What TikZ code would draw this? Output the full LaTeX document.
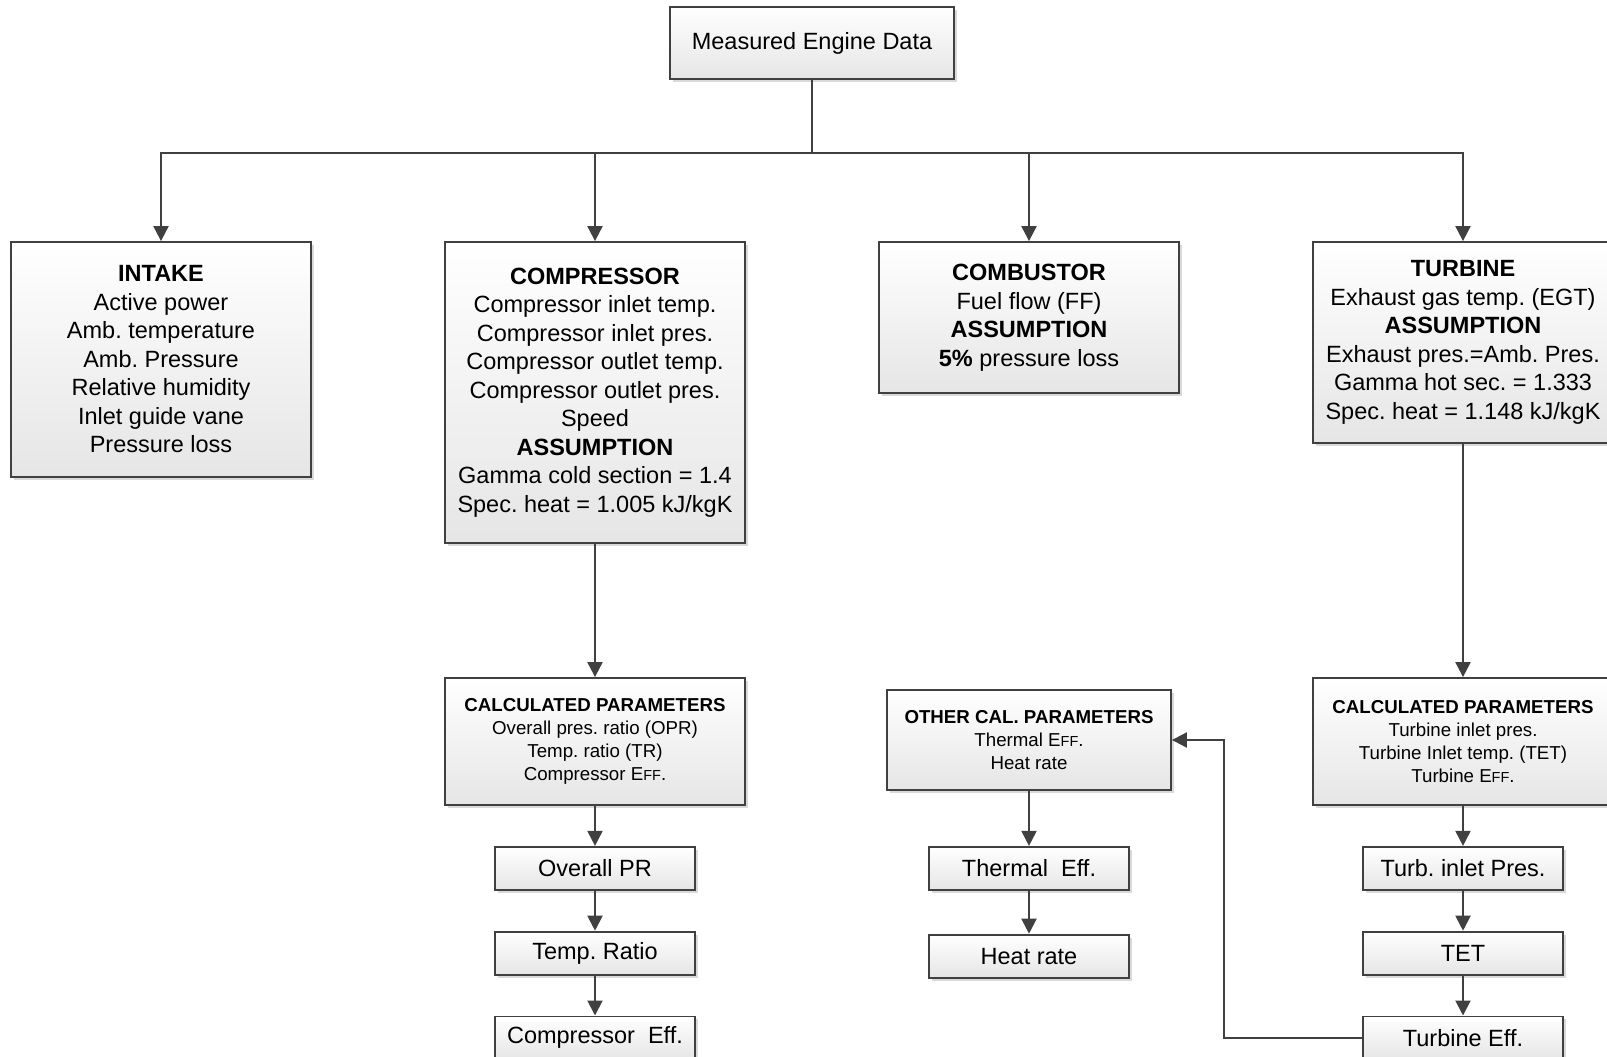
\documentclass[tikz,border=0pt]{standalone}
\usepackage{fontspec}
\setmainfont{Liberation Sans}
\usetikzlibrary{arrows.meta, positioning, shadows}

\definecolor{edgegray}{RGB}{64,64,64}
\newcommand{\effsc}{E{\fontsize{14.5}{14.5}\selectfont FF}.}
\frenchspacing

\begin{document}
\begin{tikzpicture}[x=1pt, y=-1pt, node distance=40pt, part/.style={
        rectangle,
        draw=edgegray,
        line width=1.8pt,
        top color=white,
        bottom color=black!10,
        drop shadow={opacity=0.3, shadow xshift=3pt, shadow yshift=-3pt},
        align=center,
        inner sep=0pt,
        font=\fontsize{23.5}{28.5}\selectfont
    }, calc/.style={
        part,
        minimum width=300pt,
        minimum height=127pt,
        font=\fontsize{18.7}{22.8}\selectfont
    }, result/.style={
        part,
        minimum width=200pt,
        minimum height=43pt
    }, arrow/.style={
        draw=edgegray, line width=2pt, -{Triangle[length=15pt, width=15pt]}
    }]
    \useasboundingbox (0,0) rectangle (1607,1057);

    \node (data) [part, minimum width=284pt, minimum height=72pt] at (812,43) {Measured Engine Data};
    \node (intake) [part, minimum width=300pt, minimum height=235pt] at (161,359.5)
        {\textbf{INTAKE}\\Active power\\Amb. temperature\\Amb. Pressure\\Relative humidity\\Inlet guide vane\\Pressure loss};
    \node (comp) [part, minimum width=300pt, minimum height=301pt] at (595,392.5)
        {\textbf{COMPRESSOR}\\Compressor inlet temp.\\Compressor inlet pres.\\Compressor outlet temp.\\Compressor outlet pres.\\Speed\\\textbf{ASSUMPTION}\\Gamma cold section = 1.4\\Spec. heat = 1.005 kJ/kgK};
    \node (comb) [part, minimum width=300pt, minimum height=151pt] at (1029,317.5)
        {\textbf{COMBUSTOR}\\Fuel flow (FF)\\\textbf{ASSUMPTION}\\\textbf{5\%} pressure loss};
    \node (turb) [part, minimum width=300pt, minimum height=201pt] at (1463,342.5)
        {\textbf{TURBINE}\\Exhaust gas temp. (EGT)\\\textbf{ASSUMPTION}\\Exhaust pres.=Amb. Pres.\\Gamma hot sec. = 1.333\\Spec. heat = 1.148 kJ/kgK};

    \node (compcalc) [calc] at (595,741.5)
        {\textbf{CALCULATED PARAMETERS}\\Overall pres. ratio (OPR)\\Temp. ratio (TR)\\Compressor \effsc};
    \node (opr) [result, below=of compcalc] {Overall PR};
    \node (tr) [result, below=of opr] {Temp. Ratio};
    \node (ceff) [result, below=of tr] {Compressor~ Eff.};

    \node (other) [calc, minimum width=284pt, minimum height=100pt] at (1029,740)
        {\textbf{OTHER CAL. PARAMETERS}\\Thermal \effsc\\Heat rate};
    \node (theff) [result, below=55pt of other] {Thermal~ Eff.};
    \node (heat) [result, below=43pt of theff] {Heat rate};

    \node (turbcalc) [calc] at (1463,741.5)
        {\textbf{CALCULATED PARAMETERS}\\Turbine inlet pres.\\Turbine Inlet temp. (TET)\\Turbine \effsc};
    \node (tip) [result, below=of turbcalc] {Turb. inlet Pres.};
    \node (tet) [result, below=of tip] {TET};
    \node (teff) [result, below=of tet] {Turbine Eff.};

    \draw [arrow] (data.south) -- ++(0,73) -| (intake.north);
    \draw [arrow] (data.south) -- ++(0,73) -| (comp.north);
    \draw [arrow] (data.south) -- ++(0,73) -| (comb.north);
    \draw [arrow] (data.south) -- ++(0,73) -| (turb.north);
    \draw [arrow] (comp) -- (compcalc);
    \draw [arrow] (compcalc) -- (opr);
    \draw [arrow] (opr) -- (tr);
    \draw [arrow] (tr) -- (ceff);
    \draw [arrow] (other) -- (theff);
    \draw [arrow] (theff) -- (heat);
    \draw [arrow] (turb) -- (turbcalc);
    \draw [arrow] (turbcalc) -- (tip);
    \draw [arrow] (tip) -- (tet);
    \draw [arrow] (tet) -- (teff);
    \draw [arrow] (teff.west) -- ++(-138,0) |- (other.east);

\end{tikzpicture}
\end{document}
